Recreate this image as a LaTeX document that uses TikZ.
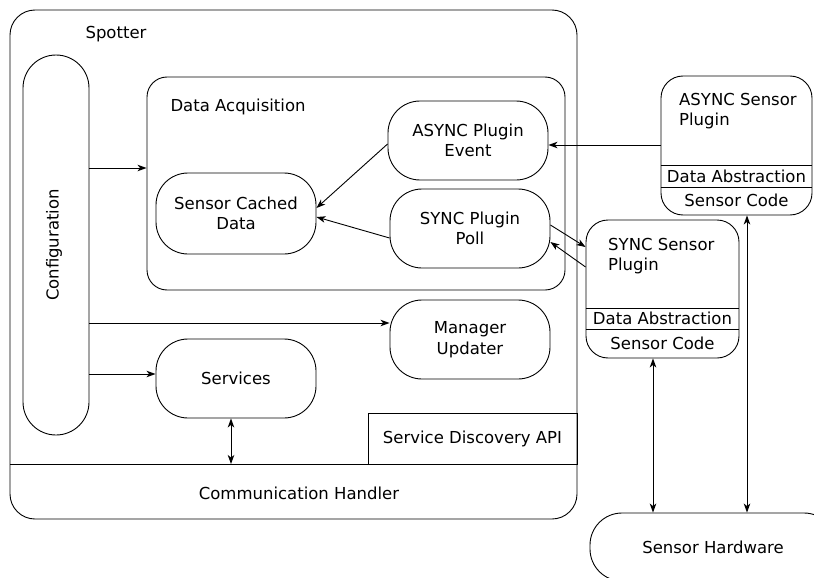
\documentclass[tikz,border=0pt]{standalone}
\usepackage{fontspec}
\setmainfont{DejaVu Sans}
\usetikzlibrary{arrows.meta}
\begin{document}
\begin{tikzpicture}[x=1pt,y=-1pt,
        every node/.style={font=\fontsize{16.5}{20.5}\selectfont},
        box/.style={draw,line width=0.9pt,rounded corners=#1,inner sep=0pt,align=center},
        box/.default=32pt,
        plain/.style={draw,line width=0.9pt,inner sep=0pt},
        arr/.style={line width=0.9pt,-{Stealth[length=9pt,width=6.5pt,inset=2.5pt]}},
        dbl/.style={line width=0.9pt,{Stealth[length=9pt,width=6.5pt,inset=2.5pt]}-{Stealth[length=9pt,width=6.5pt,inset=2.5pt]}}]
                \useasboundingbox (0,0) rectangle (814,578);
                % spotter
                \node[box=25pt,minimum width=567pt,minimum height=509pt] (spotter) at (293.5,264.5) {};
                \node[anchor=base] (spotterlbl) at (116,39) {Spotter};
                \coordinate (chl) at (10,464);
                \coordinate (chr) at (577,464);
                \draw[line width=0.9pt] (chl) -- (chr);
                \node (comm) at (299,493) {Communication Handler};
                \node[plain,minimum width=209pt,minimum height=51pt] (sdapi) at (472.5,438.5) {Service Discovery API};
                \node[box=33pt,minimum width=66pt,minimum height=380pt] (config) at (56,245) {};
                \node[rotate=90] (configlbl) at (54,245) {Configuration};
                % data acquisition
                \node[box=20pt,minimum width=418pt,minimum height=213pt] (da) at (356,183.5) {};
                \node[anchor=base west] (dalbl) at (167,111) {Data Acquisition};
                \node[box,minimum width=160pt,minimum height=81pt] (scd) at (236,213.5) {Sensor Cached\\Data};
                \node[box,minimum width=160pt,minimum height=79pt] (ape) at (468,140.5) {ASYNC Plugin\\Event};
                \node[box,minimum width=160pt,minimum height=79pt] (spp) at (470,228.5) {SYNC Plugin\\Poll};
                \node[box,minimum width=160pt,minimum height=79pt] (mgr) at (470,339.5) {Manager\\Updater};
                \node[box,minimum width=160pt,minimum height=79pt] (srv) at (236,378.5) {Services};
                % sensor plugins
                \node[box=22pt,minimum width=151pt,minimum height=139pt] (asp) at (736.5,145.5) {};
                \node[anchor=north west,inner sep=0pt,align=left] (asplbl) at (679,93) {ASYNC Sensor\\Plugin};
                \draw[line width=0.9pt] (asp.west |- 0,165) -- (asp.east |- 0,165);
                \draw[line width=0.9pt] (asp.west |- 0,187) -- (asp.east |- 0,187);
                \node (aspda) at (asp.center |- 0,176) {Data Abstraction};
                \node (aspsc) at (asp.center |- 0,200) {Sensor Code};
                \node[box=22pt,minimum width=153pt,minimum height=138pt] (ssp) at (662.5,289) {};
                \node[anchor=north west,inner sep=0pt,align=left] (ssplbl) at (608,238) {SYNC Sensor\\Plugin};
                \draw[line width=0.9pt] (ssp.west |- 0,308) -- (ssp.east |- 0,308);
                \draw[line width=0.9pt] (ssp.west |- 0,329) -- (ssp.east |- 0,329);
                \node (sspda) at (ssp.center |- 0,318.5) {Data Abstraction};
                \node (sspsc) at (ssp.center |- 0,343) {Sensor Code};
                \node[box=32pt,minimum width=246pt,minimum height=68pt] (hw) at (713,547) {Sensor Hardware};
                % connectors
                \draw[arr] (config.east |- 0,168) -- (da.west |- 0,168);
                \draw[arr] (config.east |- 0,323) -- (mgr.west |- 0,323);
                \draw[arr] (config.east |- 0,374) -- (srv.west |- 0,374);
                \draw[arr] (ape.west |- 0,144) -- (scd.east |- 0,208);
                \draw[arr] (spp.west |- 0,238) -- (scd.east |- 0,217);
                \draw[arr] (asp.west |- 0,145) -- (ape.east |- 0,145);
                \draw[arr] (spp.east |- 0,225) -- (ssp.west |- 0,247);
                \draw[arr] (ssp.west |- 0,267) -- (spp.east |- 0,242);
                \draw[dbl] (srv.south -| 231,0) -- (chl -| 231,0);
                \draw[dbl] (ssp.south -| 653,0) -- (hw.north -| 653,0);
                \draw[dbl] (asp.south -| 747,0) -- (hw.north -| 747,0);
            \end{tikzpicture}
\end{document}
